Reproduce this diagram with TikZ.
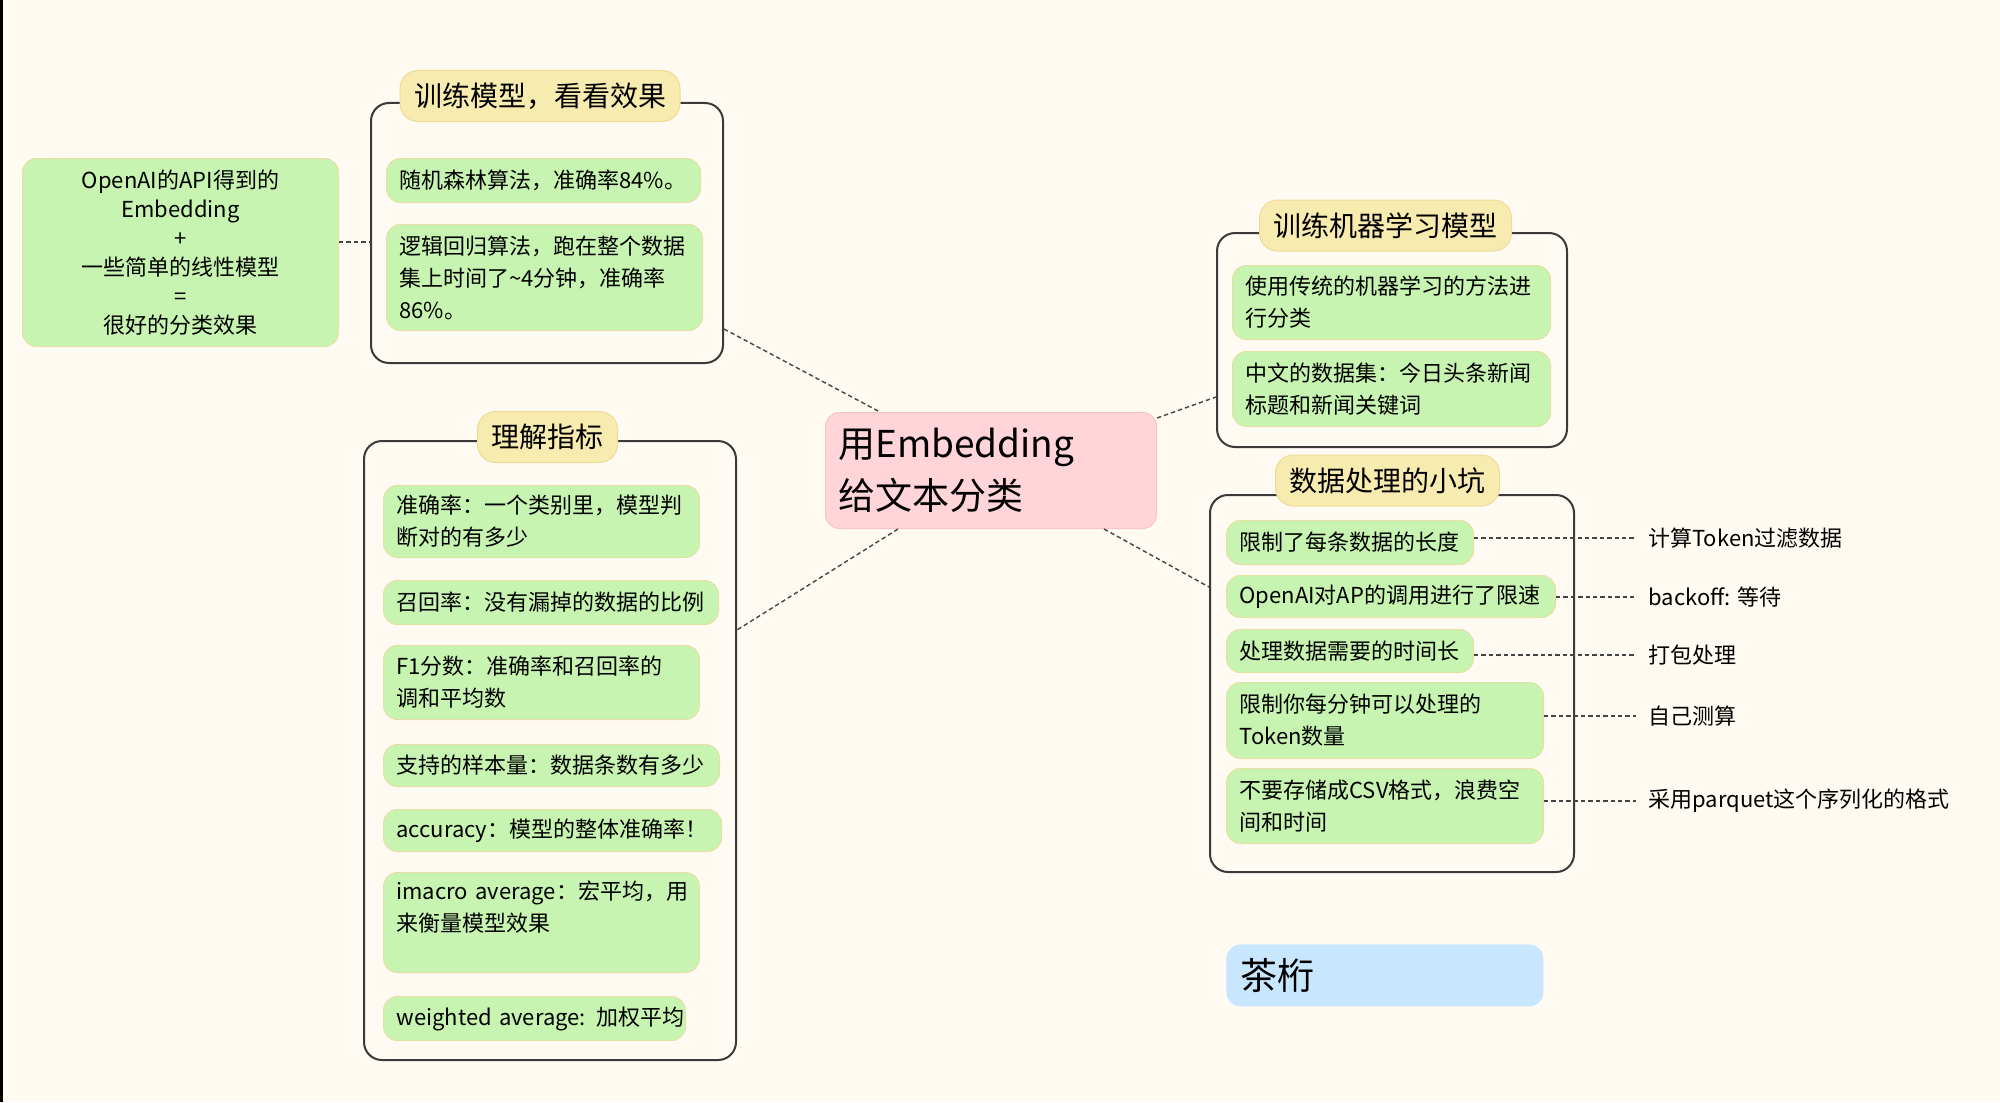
\documentclass[tikz,border=0pt]{standalone}
\usepackage{fontspec}
\setmainfont{Noto Sans CJK SC}
\usetikzlibrary{calc}
\definecolor{bg}{HTML}{FFFBF3}
\definecolor{gfill}{HTML}{C7F4B0}
\definecolor{gborder}{HTML}{E6DFA6}
\definecolor{yfill}{HTML}{F8EBB0}
\definecolor{yborder}{HTML}{EEDC98}
\definecolor{pfill}{HTML}{FFD5DA}
\definecolor{pborder}{HTML}{F6C4CA}
\definecolor{bfill}{HTML}{C8E7FF}
\definecolor{gline}{HTML}{3A3A3A}
\definecolor{dline}{HTML}{444444}
\begin{document}
\begin{tikzpicture}[x=0.5pt,y=-0.5pt,
  item/.style={draw=gborder, fill=gfill, rounded corners=7pt, line width=0.5pt,
    anchor=north west, inner xsep=6.5pt, inner ysep=2pt,
    font=\fontsize{11}{16}\selectfont, align=left},
  groupbox/.style={draw=gline, line width=1pt, rounded corners=9pt, anchor=north west,
    inner sep=0pt},
  titlebox/.style={fill=yfill, draw=yborder, line width=0.5pt, rounded corners=9pt,
    font=\fontsize{14}{16}\selectfont, inner xsep=7pt, minimum height=25.5pt},
  lab/.style={anchor=west, inner xsep=6pt, font=\fontsize{11}{16}\selectfont},
  conn/.style={draw=dline, line width=0.7pt, dash pattern=on 2.2pt off 1.5pt}
]
\fill[bg] (0,0) rectangle (2000,1102);
\useasboundingbox (0,0) rectangle (2000,1102);
\fill[black] (0,0) rectangle (3,1102);

% centre
\node[fill=pfill, draw=pborder, line width=0.5pt, rounded corners=7pt, anchor=north west,
  minimum width=165.5pt, minimum height=58pt, inner xsep=6.5pt, text width=152.5pt,
  align=left, font=\fontsize{18.5}{26}\selectfont] (C) at (825,412) {用Embedding\\给文本分类};

% left box
\node[item, text width=145pt, minimum height=94pt, align=center,
  font=\fontsize{11}{14.5}\selectfont] (L) at (22,158)
  {OpenAI的API得到的\\Embedding\\+\\一些简单的线性模型\\=\\很好的分类效果};

% group 1
\node[groupbox, minimum width=176pt, minimum height=130pt] (G1) at (370,102) {};
\node[titlebox] (T1) at (540,96) {训练模型，看看效果};
\node[item, text width=144pt, minimum height=22pt] (A1) at (386,158) {随机森林算法，准确率84\%。};
\node[item, text width=145pt, minimum height=53pt] (A2) at (386,224)
  {逻辑回归算法，跑在整个数据\\集上时间了\textasciitilde4分钟，准确率\\86\%。};

% group 2
\node[groupbox, minimum width=186pt, minimum height=309.5pt] (G2) at (363,440) {};
\node[titlebox] (T2) at (547.5,437) {理解指标};
\node[item, text width=145pt, minimum height=36pt] (B1) at (383,485) {准确率：一个类别里，模型判\\断对的有多少};
\node[item, text width=154.5pt, minimum height=22pt] (B2) at (383,580) {召回率：没有漏掉的数据的比例};
\node[item, text width=145pt, minimum height=37pt] (B3) at (383,645) {F1分数：准确率和召回率的\\调和平均数};
\node[item, text width=155pt, minimum height=21pt] (B4) at (383,744) {支持的样本量：数据条数有多少};
\node[item, text width=156pt, minimum height=21pt] (B5) at (383,809) {\mbox{accuracy：模型的整体准确率！}};
\node[item, text width=145pt, minimum height=50pt] (B6) at (383,872) {\mbox{imacro average：宏平均，用}\\来衡量模型效果\\\mbox{}};
\node[item, text width=138pt, minimum height=22pt] (B7) at (383,996) {\mbox{weighted average: 加权平均}};

% group 3
\node[groupbox, minimum width=175pt, minimum height=107pt] (G3) at (1216,232) {};
\node[titlebox] (T3) at (1385.5,225.5) {训练机器学习模型};
\node[item, text width=146pt, minimum height=37pt] (E1) at (1232,265) {使用传统的机器学习的方法进\\行分类};
\node[item, text width=146pt, minimum height=37.5pt] (E2) at (1232,351) {中文的数据集：今日头条新闻\\标题和新闻关键词};

% group 4
\node[groupbox, minimum width=182pt, minimum height=188.5pt] (G4) at (1209,494) {};
\node[titlebox] (T4) at (1387.5,480.5) {数据处理的小坑};
\node[item, text width=110.5pt, minimum height=22pt] (D1) at (1226,520) {限制了每条数据的长度};
\node[item, text width=151.5pt, minimum height=21pt] (D2) at (1226,575) {\mbox{OpenAI对AP的调用进行了限速}};
\node[item, text width=110.5pt, minimum height=21.5pt] (D3) at (1226,629) {处理数据需要的时间长};
\node[item, text width=145.5pt, minimum height=38pt] (D4) at (1226,682) {限制你每分钟可以处理的\\Token数量};
\node[item, text width=145.5pt, minimum height=37.5pt] (D5) at (1226,768) {不要存储成CSV格式，浪费空\\间和时间};

\node[lab] (R1) at (1636,538) {计算Token过滤数据};
\node[lab] (R2) at (1636,597) {backoff: 等待};
\node[lab] (R3) at (1636,655) {打包处理};
\node[lab] (R4) at (1636,716) {自己测算};
\node[lab] (R5) at (1636,801) {采用parquet这个序列化的格式};

% blue
\node[fill=bfill, rounded corners=7pt, anchor=north west, minimum width=158.5pt,
  minimum height=31pt, inner xsep=7pt, text width=144.5pt, align=left,
  font=\fontsize{18.5}{20}\selectfont] (N) at (1226,944) {茶桁};

% connectors
\draw[conn] ($(L.north east)+(0,84)$) -- ($(G1.north west)+(0,140)$);
\draw[conn] ($(G1.north east)+(0,227)$) -- ($(C.north west)+(55,0)$);
\draw[conn] ($(C.south west)+(73,0)$) -- ($(G2.north east)+(0,190)$);
\draw[conn] ($(C.north east)+(0,6)$) -- ($(G3.north west)+(0,165)$);
\draw[conn] ($(C.south east)+(-53,0)$) -- ($(G4.north west)+(0,93)$);
\draw[conn] (D1.east |- R1.west) -- (R1.west);
\draw[conn] (D2.east |- R2.west) -- (R2.west);
\draw[conn] (D3.east |- R3.west) -- (R3.west);
\draw[conn] (D4.east |- R4.west) -- (R4.west);
\draw[conn] (D5.east |- R5.west) -- (R5.west);
\end{tikzpicture}
\end{document}
